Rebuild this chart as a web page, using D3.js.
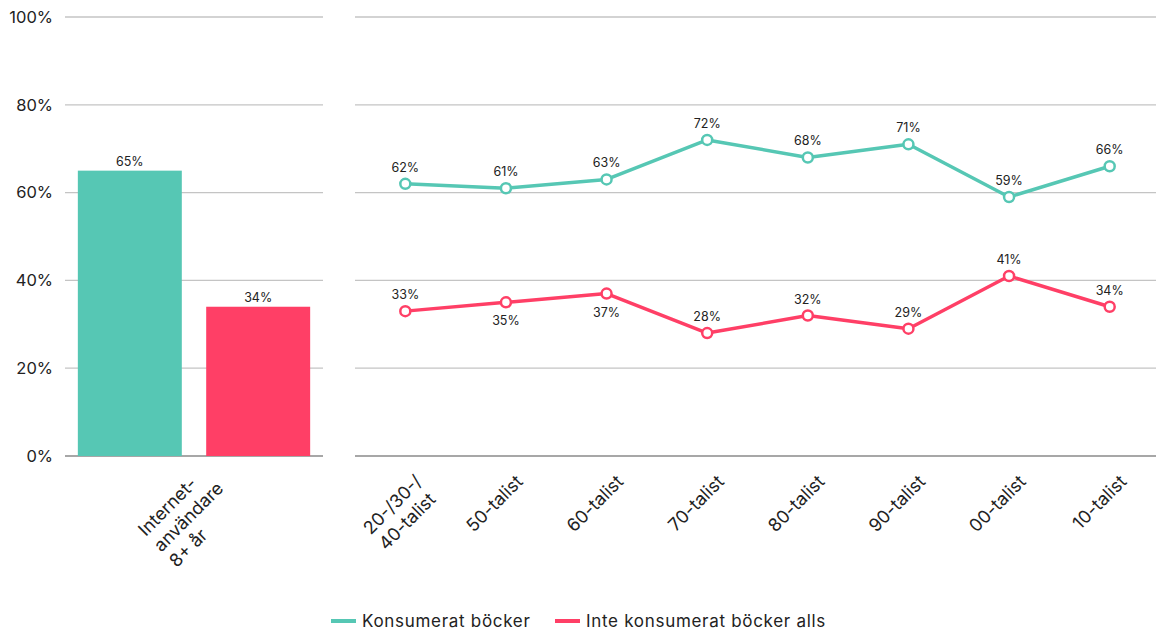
<!DOCTYPE html>
<html><head><meta charset="utf-8">
<script src="https://cdn.jsdelivr.net/npm/d3@7"></script>
<style>
body{margin:0;background:#fff;}
text{font-family:"Inter","Lato",sans-serif;fill:#222;}
</style></head><body>
<svg id="c" width="1156" height="633"></svg>
<script>
const barCategories = [["Internet-","användare","8+ år"]];
const barSeriesNames = ["Konsumerat böcker","Inte konsumerat böcker alls"];
const barValues = [65, 34];
const lineCategories = [["20-/30-/","40-talist"],["50-talist"],["60-talist"],["70-talist"],["80-talist"],["90-talist"],["00-talist"],["10-talist"]];
const consumed = [62, 61, 63, 72, 68, 71, 59, 66];
const notConsumed = [33, 35, 37, 28, 32, 29, 41, 34];
const notConsumedLabelBelow = [false, true, true, false, false, false, false, false];
const yTicks = [0, 20, 40, 60, 80, 100];
const colors = ["#56C7B4", "#FF3F66"];

const svg = d3.select("#c");
const y = d3.scaleLinear().domain([0,100]).range([456,17]);

// gridlines
function grid(x0, x1){
  svg.append("g").selectAll("line").data(yTicks).join("line")
    .attr("x1",x0).attr("x2",x1).attr("y1",d=>y(d)).attr("y2",d=>y(d))
    .attr("stroke",d=>d===0?"#8a8a8a":"#c4c4c4").attr("stroke-width",1.3);
}
grid(65,323);
grid(355,1156);

// y axis
const yAxis = d3.axisLeft(y).tickValues(yTicks).tickFormat(d=>d+"%").tickSize(0).tickPadding(0);
const ya = svg.append("g").attr("transform","translate(53,0)").call(yAxis);
ya.select(".domain").remove();
ya.selectAll("text").style("font-size","16.5px").attr("fill","#222").style("font-family","Inter, Lato, sans-serif");

// bars
const xb = d3.scaleBand().domain(barSeriesNames).range([65,323]).paddingInner(0.19).paddingOuter(0.1);
svg.append("g").selectAll("rect").data(barValues).join("rect")
  .attr("x",(d,i)=>xb(barSeriesNames[i])).attr("width",xb.bandwidth())
  .attr("y",d=>y(d)).attr("height",d=>y(0)-y(d)).attr("fill",(d,i)=>colors[i]);
svg.append("g").selectAll("text").data(barValues).join("text")
  .attr("x",(d,i)=>xb(barSeriesNames[i])+xb.bandwidth()/2).attr("y",d=>y(d)-5)
  .attr("text-anchor","middle").style("font-size","12.5px").text(d=>d+"%");

// category label helper
function catLabel(lines, cx, cy){
  const g = svg.append("g").attr("transform",`translate(${cx},${cy}) rotate(-45)`);
  const lh = 22;
  const ts = lines.map((l,i)=>g.append("text").style("font-size","18px").attr("y",14+i*lh).text(l));
  const w = d3.max(ts, t=>t.node().getComputedTextLength());
  ts.forEach(t=>t.attr("x",-w));
}
catLabel(barCategories[0], 199, 464);

// line chart
const xl = d3.scaleBand().domain(d3.range(lineCategories.length)).range([355,1160]);
const cx = i=>xl(i)+xl.bandwidth()/2;
lineCategories.forEach((l,i)=>catLabel(l, cx(i)+8, 473));

const lineGen = d3.line().x((d,i)=>cx(i)).y(d=>y(d));
[[consumed,0],[notConsumed,1]].forEach(([vals,k])=>{
  svg.append("path").datum(vals).attr("d",lineGen).attr("fill","none")
    .attr("stroke",colors[k]).attr("stroke-width",3.5).attr("stroke-linejoin","round");
  svg.append("g").selectAll("circle").data(vals).join("circle")
    .attr("cx",(d,i)=>cx(i)).attr("cy",d=>y(d)).attr("r",5)
    .attr("fill","#fff").attr("stroke",colors[k]).attr("stroke-width",2.5);
  svg.append("g").selectAll("text").data(vals).join("text")
    .attr("x",(d,i)=>cx(i))
    .attr("y",(d,i)=>(k===1 && notConsumedLabelBelow[i]) ? y(d)+23 : y(d)-12)
    .attr("text-anchor","middle").style("font-size","12.5px").text(d=>d+"%");
});

// legend
const leg = svg.append("g");
const legX = [331, 555];
barSeriesNames.forEach((n,i)=>{
  leg.append("line").attr("x1",legX[i]).attr("x2",legX[i]+25).attr("y1",621).attr("y2",621)
    .attr("stroke",colors[i]).attr("stroke-width",4);
  leg.append("text").attr("x",legX[i]+31).attr("y",627).style("font-size","17px")
    .style("letter-spacing","0.7px").text(n);
});
</script>
</body></html>
